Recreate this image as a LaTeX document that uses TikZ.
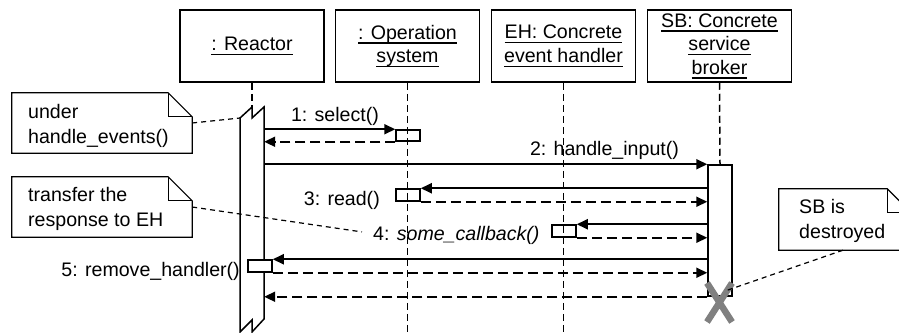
\documentclass[tikz,border=0pt]{standalone}
\usepackage{fontspec}
\setmainfont{Liberation Sans}
\usetikzlibrary{arrows.meta,calc}
\newcommand\myul[1]{\setbox0\hbox{#1}\rlap{\rule[-4.5pt]{\wd0}{1.3pt}}\box0}
\begin{document}
\begin{tikzpicture}[x=1pt,y=-1pt,
  every node/.style={font=\fontsize{19.6}{23.5}\selectfont, inner sep=0pt},
  obj/.style={draw, line width=1.5pt, minimum width=144pt, minimum height=72pt, align=center},
  life/.style={line width=1.5pt, dash pattern=on 7pt off 4pt},
  act/.style={draw, line width=1.5pt, minimum width=24pt, minimum height=12pt},
  call/.style={line width=2pt, -{Triangle[length=11pt,width=10pt]}},
  ret/.style={line width=2pt, dash pattern=on 10pt off 5pt, -{Triangle[length=11pt,width=10pt]}},
  notebody/.style={line width=1.2pt},
  notetext/.style={anchor=west, align=left, font=\fontsize{19.6}{24.5}\selectfont},
  notelink/.style={line width=1.2pt, dash pattern=on 5pt off 4pt},
  lbl/.style={anchor=base}]
\useasboundingbox (0,0) rectangle (899,332);
\coordinate (bot) at (0,332);

% objects
\node[obj] (reactor) at (252,46) {\myul{: Reactor}};
\node[obj] (os) at (407.5,46) {\myul{: Operation}\\\myul{system}};
\node[obj] (eh) at (563.5,46) {\myul{EH: Concrete}\\\myul{event handler}};
\node[obj] (sb) at (719.5,46) {\myul{SB: Concrete}\\\myul{service}\\\myul{broker}};

% reactor activation (with broken ends)
\node[minimum width=24pt, minimum height=225pt] (ract) at (252,219.5) {};
\coordinate (rtl) at (240,118);
\draw[line width=1.5pt, line join=miter] (240,332) -- (rtl) -- (252,107) -- (252,118) -- (264,107)
  -- (264,319) -- (252,332) -- (252,320) -- cycle;

% lifelines
\draw[life] (reactor.south) -- (ract.north);
\draw[life] (os.south) -- (os.south |- bot);
\draw[life] (eh.south) -- (eh.south |- bot);

% activations
\node[act, minimum height=11pt] (os1) at (408,135.5) {};
\node[act] (rd) at (408,195) {};
\node[act] (cb) at (564,231) {};
\node[act, minimum height=131pt] (sba) at (720,230.5) {};
\draw[life] (sb.south) -- (sba.north);

% messages
\draw[call] (ract.east |- os1.north) -- (os1.north west);
\draw[ret] (os1.south west) -- (ract.east |- os1.south);
\draw[call] (ract.east |- sba.north) -- (sba.north west);
\draw[call] (sba.west |- rd.north) -- (rd.north east);
\draw[ret] (rd.south east) -- (sba.west |- rd.south);
\draw[call] (sba.west |- cb.north) -- (cb.north east);
\draw[ret] (cb.south east) -- (sba.west |- cb.south);
\node[act, fill=white] (rm) at (260,266) {};
\draw[call] (sba.west |- rm.north) -- (rm.north east);
\draw[ret] (rm.south east) -- (sba.west |- rm.south);
\draw[ret] (sba.south west) -- (ract.east |- sba.south);

% labels
\node[lbl] (l1) at (335,121) {1: select()};
\node[lbl] (l2) at (604.5,155) {2: handle\_input()};
\node[lbl, anchor=base east] (l3) at (380,205) {3: read()};
\node[lbl, anchor=base west] (l4) at (373,240) {4: \textit{some\_callback()}};
\node[lbl, anchor=base east] (l5) at (240,276) {5: remove\_handler()};

% destruction
\coordinate (xm) at (719.5,302.5);
\draw[gray, line width=6.5pt] ($(xm)+(-12.5,-19.5)$) -- ($(xm)+(12.5,19.5)$)
  ($(xm)+(12.5,-19.5)$) -- ($(xm)+(-12.5,19.5)$);

% notes
\node[minimum width=180pt, minimum height=60pt] (n1) at (102,123) {};
\draw[notebody] (n1.north west) -- ([xshift=-24pt]n1.north east) -- ([yshift=-24pt]n1.north east)
  -- (n1.south east) -- (n1.south west) -- cycle;
\draw[notebody] ([xshift=-24pt]n1.north east) |- ([yshift=-24pt]n1.north east);
\node[notetext] (t1) at (28,126) {under\\handle\_events()};

\node[minimum width=180pt, minimum height=60pt] (n2) at (102,207) {};
\draw[notebody] (n2.north west) -- ([xshift=-24pt]n2.north east) -- ([yshift=-24pt]n2.north east)
  -- (n2.south east) -- (n2.south west) -- cycle;
\draw[notebody] ([xshift=-24pt]n2.north east) |- ([yshift=-24pt]n2.north east);
\node[notetext] (t2) at (28,209) {transfer the\\response to EH};

\node[minimum width=132pt, minimum height=61pt] (n3) at (845,219.5) {};
\draw[notebody] (n3.north west) -- ([xshift=-24pt]n3.north east) -- ([yshift=-24pt]n3.north east)
  -- (n3.south east) -- (n3.south west) -- cycle;
\draw[notebody] ([xshift=-24pt]n3.north east) |- ([yshift=-24pt]n3.north east);
\node[notetext] (t3) at (799,221) {SB is\\destroyed};

% note links
\draw[notelink] (n1.east) -- (rtl);
\draw[notelink] (n2.east) -- ($(l4.west)+(-11,-3)$);
\draw[notelink] ([xshift=-2pt]n3.south) -- ($(xm)+(7,-12)$);
\end{tikzpicture}
\end{document}
